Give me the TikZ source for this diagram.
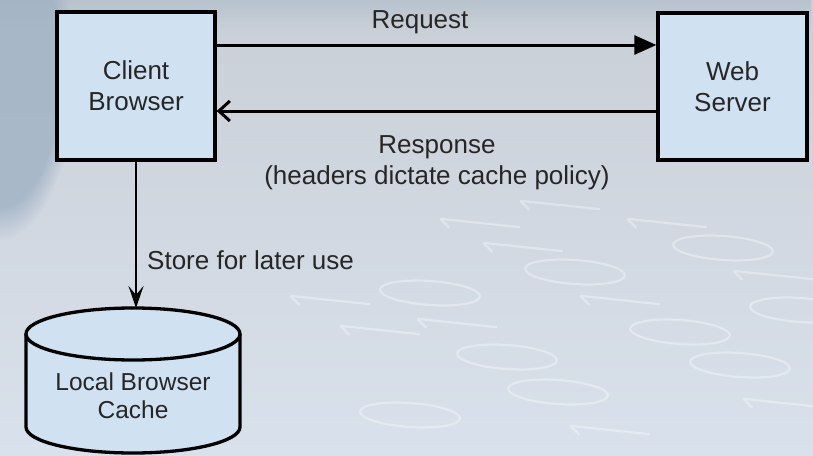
\documentclass[tikz,border=0pt]{standalone}
\usepackage{fontspec}
\setmainfont{Liberation Sans}
\usetikzlibrary{arrows.meta,fadings}
\definecolor{boxfill}{HTML}{D0E1F2}
\definecolor{ink}{HTML}{262626}
\definecolor{bgtop}{HTML}{C9CFD6}
\definecolor{bgmid}{HTML}{C8C9CB}
\definecolor{bgbot}{HTML}{D9E1EC}
\definecolor{bgleft}{HTML}{9FB1C4}
\tikzset{
  box/.style={draw=black, line width=3.3pt, fill=boxfill, align=center, text=ink,
    font=\fontsize{26}{31}\selectfont, inner sep=0pt},
  lbl/.style={align=center, text=ink, font=\fontsize{26}{31}\selectfont, inner sep=0pt},
  conn/.style={draw=black, line width=3pt},
  digit/.style={draw=white, line width=2.2pt, opacity=0.35},
}
\begin{document}
\begin{tikzpicture}[x=1pt,y=-1pt]
\useasboundingbox (0,0) rectangle (813,455);
% background
\shade[top color=bgtop, middle color=bgmid, bottom color=bgbot] (0,0) rectangle (813,455);
\fill[bgleft, path fading=circle with fuzzy edge 20 percent, opacity=0.8] (0,70) ellipse[x radius=75, y radius=170];
\fill[bgleft, path fading=south, opacity=0.4] (0,0) rectangle (813,30);
% binary digits (faint)
\foreach \cx/\cy in {723/248, 575/272, 430/293, 680/332, 507/357, 740/365, 558/392, 800/310, 410/415}
  \draw[digit, rotate around={-4:(\cx,\cy)}] (\cx,\cy) ellipse[x radius=50, y radius=12];
\foreach \cx/\cy in {480/223, 523/247, 667/223, 620/300, 457/323, 773/275, 610/430, 783/403, 560/205, 330/300, 380/330}
  \draw[digit, rotate around={-6:(\cx,\cy)}] (\cx-40,\cy) -- (\cx+40,\cy) (\cx-40,\cy) -- (\cx-30,\cy+8);
% nodes
\node[box, minimum width=158, minimum height=148] (client) at (136,86) {Client\\Browser};
\node[box, minimum width=149, minimum height=147] (server) at (732.5,86.5) {Web\\Server};
\coordinate (ry) at (0,45);
\coordinate (sy) at (0,111);
% cylinder
\filldraw[fill=boxfill, draw=black, line width=3.3pt]
  (26,334) -- (26,427) arc[start angle=180, end angle=0, x radius=107, y radius=26] -- (240,334);
\filldraw[fill=boxfill, draw=black, line width=3.3pt] (133,334) ellipse[x radius=107, y radius=26];
\coordinate (cachetop) at (133,308);
\node[lbl, font=\fontsize{24.5}{28}\selectfont] (cache) at (133,396) {Local Browser\\Cache};
% connectors
\draw[conn, -{Triangle[length=22pt, width=19pt]}] (client.east |- ry) -- (server.west |- ry);
\draw[conn, -{Straight Barb[length=11pt, width=20pt, line width=3pt]}] (server.west |- sy) -- (client.east |- sy);
\draw[conn, line width=2.6pt, -{Stealth[length=22pt, width=15pt, inset=9pt]}] (client.south) -- (client.south |- cachetop);
% labels
\node[lbl] (req) at (420,22) {Request};
\node[lbl] (resp) at (437,162.5) {Response\\(headers dictate cache policy)};
\node[lbl, anchor=west] (store) at (147,260) {Store for later use};
\end{tikzpicture}
\end{document}
